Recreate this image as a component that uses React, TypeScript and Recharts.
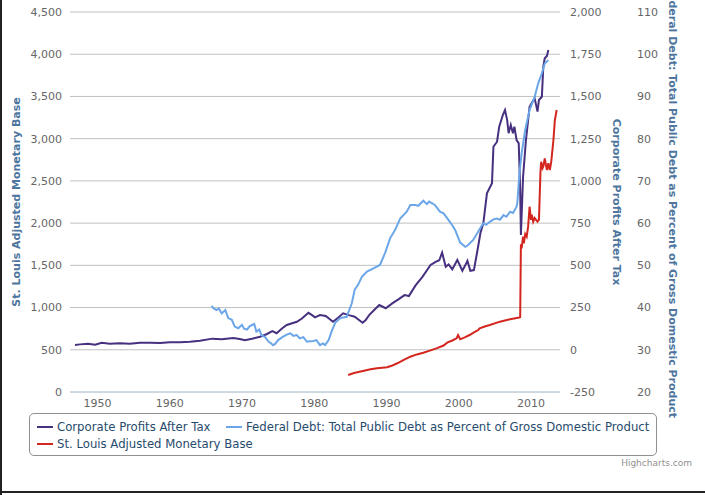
import React from 'react';
import { LineChart, Line, XAxis, YAxis, CartesianGrid } from 'recharts';

// [year, billions of dollars]
const profitSeries: [number, number][] = [
  [1946.9, 28], [1947.6, 32], [1948.7, 36], [1949.7, 30], [1950.6, 42], [1951.7, 36],
  [1953.1, 38], [1954.5, 36], [1955.9, 42], [1957.3, 42], [1958.7, 40], [1960.0, 44],
  [1961.4, 44], [1962.8, 48], [1964.2, 54], [1965.9, 66], [1967.2, 62], [1968.8, 70],
  [1969.7, 64], [1970.4, 56], [1971.4, 65], [1972.5, 77], [1973.4, 92], [1974.2, 111],
  [1974.8, 98], [1975.5, 125], [1976.2, 147], [1977.6, 166], [1978.3, 185], [1979.2, 219],
  [1979.7, 205], [1980.1, 192], [1980.8, 206], [1981.6, 200], [1982.6, 166], [1983.3, 190],
  [1984.0, 216], [1984.8, 205], [1985.6, 196], [1986.7, 160], [1987.1, 175], [1987.6, 205],
  [1988.4, 240], [1989.0, 265], [1989.9, 246], [1990.8, 275], [1991.7, 300], [1992.5, 324],
  [1993.1, 318], [1994.0, 380], [1995.0, 433], [1996.1, 502], [1996.8, 521], [1997.3, 530],
  [1997.7, 575], [1998.2, 492], [1998.6, 505], [1999.1, 476], [1999.8, 532], [2000.5, 468],
  [2000.9, 500], [2001.2, 527], [2001.6, 468], [2002.1, 472], [2002.6, 591], [2003.0, 691],
  [2003.4, 749], [2003.9, 926], [2004.6, 986], [2004.8, 1202], [2005.3, 1232], [2005.6, 1321],
  [2006.1, 1390], [2006.4, 1420], [2006.7, 1360], [2006.9, 1282], [2007.2, 1331], [2007.5, 1282],
  [2007.7, 1321], [2008.0, 1242], [2008.3, 1222], [2008.5, 946], [2008.6, 680], [2008.9, 1025],
  [2009.3, 1242], [2009.8, 1439], [2010.2, 1469], [2010.5, 1489], [2010.9, 1410], [2011.1, 1479],
  [2011.5, 1498], [2011.7, 1676], [2011.9, 1726], [2012.2, 1740], [2012.4, 1775],
];

// [year, percent of GDP]
const debtSeries: [number, number][] = [
  [1965.8, 40.4], [1966.1, 39.8], [1966.5, 39.4], [1966.8, 39.8], [1967.2, 38.6], [1967.7, 39.4],
  [1968.1, 37.5], [1968.6, 37.1], [1969.0, 35.5], [1969.5, 35.1], [1970.0, 35.9], [1970.3, 35.0],
  [1970.7, 34.8], [1971.1, 35.6], [1971.7, 36.1], [1972.0, 34.3], [1972.4, 34.8], [1972.7, 33.5],
  [1973.2, 33.0], [1973.7, 31.9], [1974.0, 31.6], [1974.3, 31.1], [1974.6, 31.4], [1975.0, 32.3],
  [1975.7, 33.1], [1976.2, 33.6], [1976.7, 33.9], [1977.1, 33.3], [1977.6, 33.5], [1978.0, 32.7],
  [1978.5, 33.0], [1979.0, 31.9], [1979.4, 32.0], [1979.9, 32.1], [1980.3, 32.3], [1980.8, 31.1],
  [1981.2, 31.5], [1981.5, 31.1], [1982.0, 32.3], [1982.4, 34.3], [1982.9, 36.4], [1983.6, 37.5],
  [1984.5, 37.8], [1985.2, 41.0], [1985.6, 44.2], [1986.1, 45.5], [1986.6, 47.3], [1987.3, 48.5],
  [1988.2, 49.3], [1989.1, 50.1], [1989.8, 52.9], [1990.5, 56.4], [1991.2, 58.4], [1991.9, 61.1],
  [1992.8, 62.7], [1993.3, 64.3], [1994.0, 64.3], [1994.4, 64.1], [1995.1, 65.3], [1995.6, 64.5],
  [1995.9, 65.1], [1996.7, 64.3], [1997.4, 62.7], [1997.9, 62.3], [1998.6, 60.7], [1999.1, 59.5],
  [1999.5, 58.4], [2000.2, 55.4], [2000.9, 54.4], [2001.3, 54.8], [2002.0, 56.0], [2002.7, 58.0],
  [2003.4, 60.0], [2003.8, 59.6], [2004.3, 60.3], [2004.8, 60.9], [2005.3, 61.1], [2005.7, 60.8],
  [2006.2, 61.9], [2006.6, 61.5], [2007.1, 62.7], [2007.5, 62.4], [2008.0, 63.9], [2008.1, 64.7],
  [2008.4, 71.8], [2008.7, 76.5], [2009.2, 82.1], [2009.8, 86.8], [2010.5, 89.9], [2011.0, 93.1],
  [2011.5, 95.5], [2011.9, 97.8], [2012.4, 98.6],
];

// [year, billions of dollars]
const baseSeries: [number, number][] = [
  [1984.7, 201], [1985.5, 225], [1986.9, 252], [1987.8, 270], [1988.7, 281], [1990.1, 293],
  [1990.7, 310], [1991.5, 340], [1992.4, 380], [1993.3, 418], [1994.2, 445], [1995.1, 465],
  [1996.0, 490], [1996.9, 517], [1997.9, 550], [1998.4, 584], [1999.1, 610], [1999.7, 636],
  [1999.9, 675], [2000.2, 624], [2000.9, 650], [2001.5, 675], [2002.1, 705], [2002.7, 734],
  [2002.9, 754], [2003.6, 775], [2004.3, 793], [2005.7, 833], [2007.1, 861], [2008.2, 878],
  [2008.5, 886], [2008.6, 1750], [2008.7, 1700], [2008.9, 1840], [2009.0, 1760], [2009.2, 1870],
  [2009.4, 1839], [2009.6, 1958], [2009.8, 2194], [2010.0, 2037], [2010.1, 2100], [2010.3, 2017],
  [2010.5, 2060], [2010.9, 2017], [2011.1, 2040], [2011.3, 2590], [2011.4, 2727], [2011.6, 2650],
  [2011.7, 2668], [2011.9, 2767], [2012.2, 2629], [2012.4, 2708], [2012.6, 2629], [2012.8, 2727],
  [2013.1, 2984], [2013.3, 3221], [2013.55, 3339],
];

const yearTicks = [1950, 1960, 1970, 1980, 1990, 2000, 2010];
const baseTicks = [0, 500, 1000, 1500, 2000, 2500, 3000, 3500, 4000, 4500];
const profitTicks = [-250, 0, 250, 500, 750, 1000, 1250, 1500, 1750, 2000];
const debtTicks = [20, 30, 40, 50, 60, 70, 80, 90, 100, 110];

const profitName = 'Corporate Profits After Tax';
const debtName = 'Federal Debt: Total Public Debt as Percent of Gross Domestic Product';
const baseName = 'St. Louis Adjusted Monetary Base';

const COLORS = { profit: '#46307f', debt: '#6aa6e8', base: '#d3261e' };

const toRows = (s: [number, number][]) => s.map(([year, value]) => ({ year, value }));
const profitData = toRows(profitSeries);
const debtData = toRows(debtSeries);
const baseData = toRows(baseSeries);

const FONT = 'DejaVu Sans, sans-serif';
const tickStyle = { fill: '#666666', fontSize: 11, fontFamily: FONT };
const fmt = (v: number) => v.toLocaleString('en-US');

const AxisTitle = (props: any) => {
  const { viewBox, titleText, rot, shiftX } = props;
  if (!viewBox) return null;
  const cx = viewBox.x + shiftX;
  const cy = viewBox.y + viewBox.height / 2;
  return (
    <text
      x={cx}
      y={cy}
      transform={`rotate(${rot}, ${cx}, ${cy})`}
      textAnchor="middle"
      dominantBaseline="central"
      fill="#4d759e"
      fontSize={11}
      fontWeight="bold"
      fontFamily={FONT}
    >
      {titleText}
    </text>
  );
};

const legendItems = [
  { name: profitName, color: COLORS.profit, left: 37, top: 427 },
  { name: debtName, color: COLORS.debt, left: 226, top: 427 },
  { name: baseName, color: COLORS.base, left: 37, top: 444 },
];

export default function App() {
  return (
    <div
      style={{
        position: 'absolute',
        left: 0,
        top: 0,
        width: 705,
        height: 495,
        background: '#ffffff',
        fontFamily: FONT,
        overflow: 'hidden',
      }}
    >
      <LineChart width={705} height={495} margin={{ top: 12, right: 0, left: 0, bottom: 73 }}>
        <CartesianGrid yAxisId="base" vertical={false} stroke="#c0c0c0" strokeWidth={1} />
        <XAxis
          dataKey="year"
          type="number"
          domain={[1946.21, 2014.01]}
          ticks={yearTicks}
          allowDataOverflow
          height={30}
          axisLine={{ stroke: '#c0d0e0', strokeWidth: 1 }}
          tickLine={false}
          tickSize={4}
          tickMargin={3}
          tick={tickStyle}
        />
        <YAxis
          yAxisId="base"
          orientation="left"
          width={70}
          domain={[0, 4500]}
          ticks={baseTicks}
          allowDataOverflow
          axisLine={false}
          tickLine={false}
          tickSize={4}
          tickMargin={4}
          tick={tickStyle}
          tickFormatter={fmt}
          label={<AxisTitle titleText={baseName} rot={-90} shiftX={16} />}
        />
        <YAxis
          yAxisId="r2"
          orientation="right"
          width={75}
          domain={[20, 110]}
          ticks={debtTicks}
          allowDataOverflow
          axisLine={false}
          tickLine={false}
          tickSize={3}
          tickMargin={4}
          tick={tickStyle}
          label={<AxisTitle titleText={debtName} rot={90} shiftX={42} />}
        />
        <YAxis
          yAxisId="r1"
          orientation="right"
          width={70}
          domain={[-250, 2000]}
          ticks={profitTicks}
          allowDataOverflow
          axisLine={false}
          tickLine={false}
          tickSize={5}
          tickMargin={5}
          tick={tickStyle}
          tickFormatter={fmt}
          label={<AxisTitle titleText={profitName} rot={90} shiftX={56} />}
        />
        <Line
          data={profitData}
          dataKey="value"
          yAxisId="r1"
          type="linear"
          stroke={COLORS.profit}
          strokeWidth={2}
          dot={false}
          activeDot={false}
          isAnimationActive={false}
          name={profitName}
        />
        <Line
          data={debtData}
          dataKey="value"
          yAxisId="r2"
          type="linear"
          stroke={COLORS.debt}
          strokeWidth={2}
          dot={false}
          activeDot={false}
          isAnimationActive={false}
          name={debtName}
        />
        <Line
          data={baseData}
          dataKey="value"
          yAxisId="base"
          type="linear"
          stroke={COLORS.base}
          strokeWidth={2}
          dot={false}
          activeDot={false}
          isAnimationActive={false}
          name={baseName}
        />
      </LineChart>

      {/* legend */}
      <div
        style={{
          position: 'absolute',
          left: 29,
          top: 413,
          width: 628,
          height: 43,
          border: '1px solid #909090',
          borderRadius: 5,
          boxSizing: 'border-box',
        }}
      />
      {legendItems.map((it) => (
        <div key={it.name}>
          <div
            style={{
              position: 'absolute',
              left: it.left,
              top: it.top - 1,
              width: 16,
              height: 2,
              background: it.color,
            }}
          />
          <div
            style={{
              position: 'absolute',
              left: it.left + 20,
              top: it.top - 8,
              height: 16,
              lineHeight: '16px',
              fontSize: 11.7,
              color: '#274b6d',
              whiteSpace: 'nowrap',
            }}
          >
            {it.name}
          </div>
        </div>
      ))}

      {/* credits */}
      <div
        style={{
          position: 'absolute',
          right: 13,
          top: 457,
          lineHeight: '12px',
          fontSize: 9,
          color: '#909090',
          whiteSpace: 'nowrap',
        }}
      >
        Highcharts.com
      </div>

      {/* frame */}
      <div style={{ position: 'absolute', left: 0, top: 0, width: 2, height: 495, background: '#222' }} />
      <div style={{ position: 'absolute', left: 0, top: 491, width: 705, height: 2, background: '#222' }} />
    </div>
  );
}
